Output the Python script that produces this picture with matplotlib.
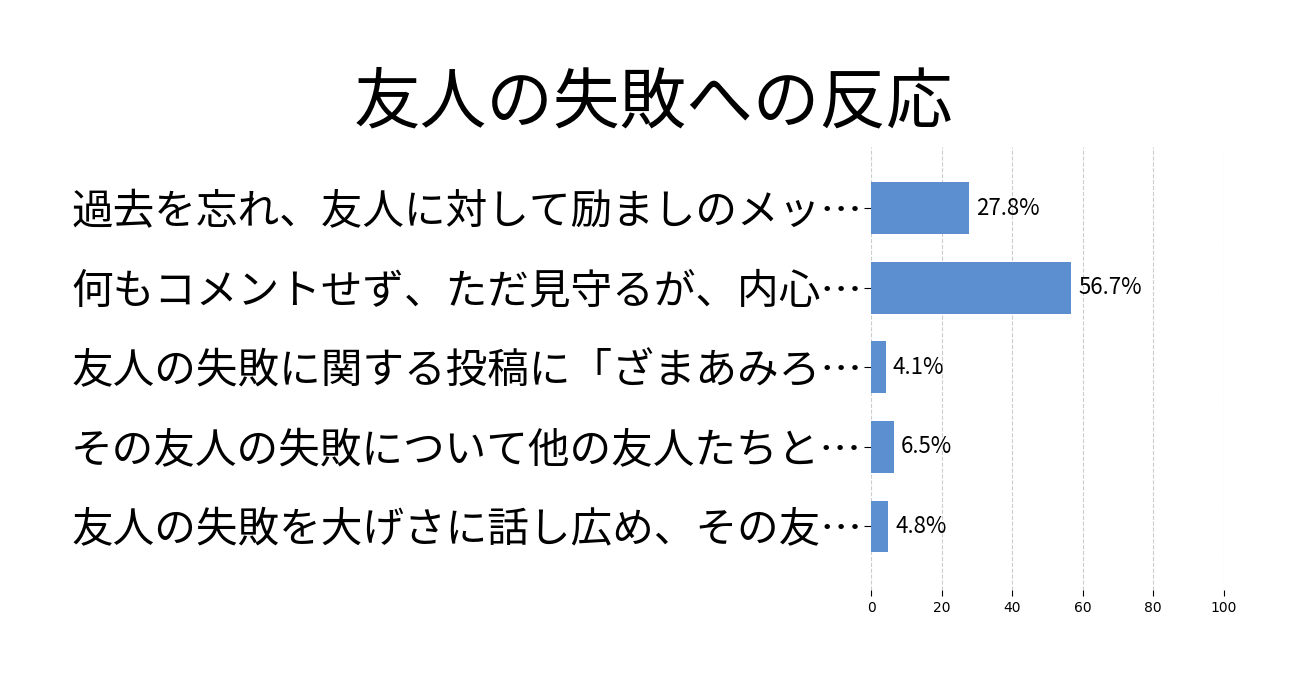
import matplotlib
matplotlib.use('Agg')
import matplotlib.pyplot as plt

plt.rcParams['font.family'] = ['Noto Sans CJK JP', 'DejaVu Sans']

labels = ['過去を忘れ、友人に対して励ましのメッ…',
          '何もコメントせず、ただ見守るが、内心…',
          '友人の失敗に関する投稿に「ざまあみろ…',
          'その友人の失敗について他の友人たちと…',
          '友人の失敗を大げさに話し広め、その友…']
values = [27.8, 56.7, 4.1, 6.5, 4.8]
xticks = [0, 20, 40, 60, 80, 100]

fig = plt.figure(figsize=(13.06, 6.83), dpi=100)
ax = fig.add_axes([0.667, 0.136, 0.27, 0.649])

ypos = list(range(len(values)))
ax.barh(ypos, values, height=0.65, color='#5b8fcf', zorder=2)
for y, v in zip(ypos, values):
    ax.text(v + 2, y, f'{v}%', va='center', ha='left', fontsize=16)

ax.set_xlim(0, 100)
ax.set_ylim(4.8, -0.77)
ax.set_yticks(ypos)
ax.set_yticklabels(labels, fontsize=30)
ax.set_xticks(xticks)
ax.set_xticklabels([str(t) for t in xticks], fontsize=10, family='DejaVu Sans')
ax.tick_params(axis='y', length=5, pad=1.5)
ax.tick_params(axis='x', length=4)
ax.grid(axis='x', linestyle='--', color='#cccccc', linewidth=0.8, zorder=0)
for s in ax.spines.values():
    s.set_visible(False)

fig.text(0.5, 0.848, '友人の失敗への反応', ha='center', va='center', fontsize=48)

fig.savefig('out.png', dpi=100)
